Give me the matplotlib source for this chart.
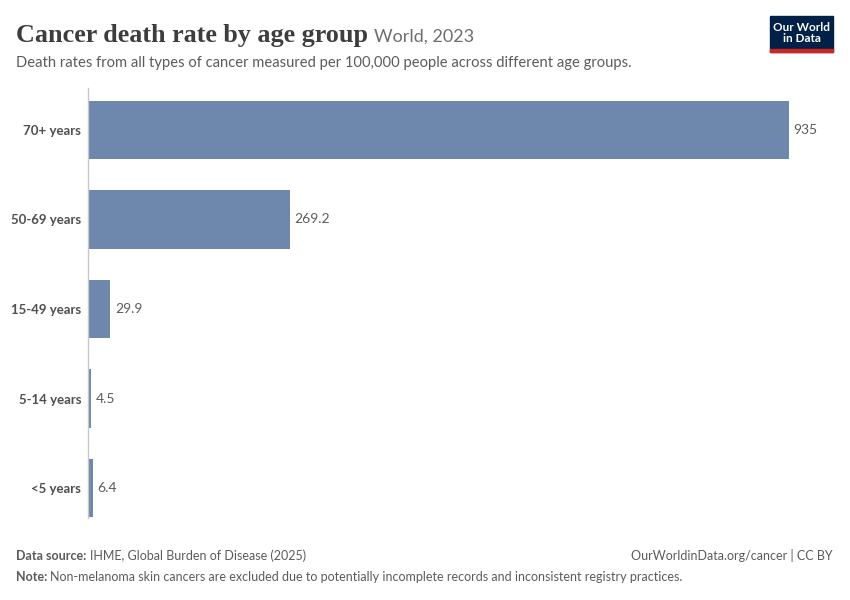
import matplotlib.pyplot as plt
from matplotlib.patches import Rectangle

categories = ['70+ years', '50-69 years', '15-49 years', '5-14 years', '<5 years']
values = [935, 269.2, 29.9, 4.5, 6.4]
value_labels = ['935', '269.2', '29.9', '4.5', '6.4']

bar_color = '#6d87ad'
text_gray = '#5b5b5b'

plt.rcParams['font.family'] = ['Lato', 'DejaVu Sans']

fig = plt.figure(figsize=(8.5, 6), dpi=100)
ax = fig.add_axes([88 / 850, 1 - 518 / 600, (789 - 88) / 850, (518 - 88) / 600])

ypos = list(range(len(categories)))
ax.barh(ypos, values, height=0.65, color=bar_color)
ax.set_xlim(0, 935)
ax.set_ylim(4.335, -0.469)

for y, v, lab in zip(ypos, values, value_labels):
    ax.text(v + 6, y, lab, va='center', ha='left', fontsize=10, color=text_gray, clip_on=False)

ax.set_yticks(ypos)
ax.set_yticklabels(categories, fontsize=9.5, color='#4f4f4f', fontweight='bold')
ax.tick_params(axis='y', length=0, pad=5)
ax.set_xticks([])
for s in ['top', 'right', 'bottom']:
    ax.spines[s].set_visible(False)
ax.spines['left'].set_color('#c8c8c8')
ax.spines['left'].set_linewidth(1)

# title and subtitle
t = fig.text(16 / 850, 1 - 42 / 600, 'Cancer death rate by age group', fontsize=18.8,
             family=['Liberation Serif', 'DejaVu Serif'], color='#3d3d3d', fontweight='bold')
fig.canvas.draw()
bb = t.get_window_extent()
fig.text((bb.x1 + 6) / 850, 1 - 42 / 600, 'World, 2023', fontsize=13, color='#6e6e6e')
fig.text(16 / 850, 1 - 67 / 600,
         'Death rates from all types of cancer measured per 100,000 people across different age groups.',
         fontsize=10.65, color='#5b5b5b')

# logo
fig.patches.append(Rectangle((770 / 850, 1 - 52 / 600), 63 / 850, 36 / 600,
                             transform=fig.transFigure, color='#002147'))
fig.patches.append(Rectangle((770 / 850, 1 - 52 / 600), 63 / 850, 3 / 600,
                             transform=fig.transFigure, color='#ce261e'))
fig.text(801.5 / 850, 1 - 33 / 600, 'Our World\nin Data', ha='center', va='center',
         fontsize=8.5, color='white', fontweight='bold', linespacing=1.0)

# footer
fig.text(16 / 850, 1 - 560 / 600, 'Data source:', fontsize=9, color='#5b5b5b', fontweight='bold')
fig.text(90 / 850, 1 - 560 / 600, 'IHME, Global Burden of Disease (2025)', fontsize=9, color='#5b5b5b')
fig.text(833 / 850, 1 - 560 / 600, 'OurWorldinData.org/cancer | CC BY', fontsize=9, color='#5b5b5b', ha='right')
fig.text(16 / 850, 1 - 581 / 600, 'Note:', fontsize=9, color='#5b5b5b', fontweight='bold')
fig.text(50 / 850, 1 - 581 / 600,
         'Non-melanoma skin cancers are excluded due to potentially incomplete records and inconsistent registry practices.',
         fontsize=9, color='#5b5b5b')

fig.savefig('out.png', dpi=100)
